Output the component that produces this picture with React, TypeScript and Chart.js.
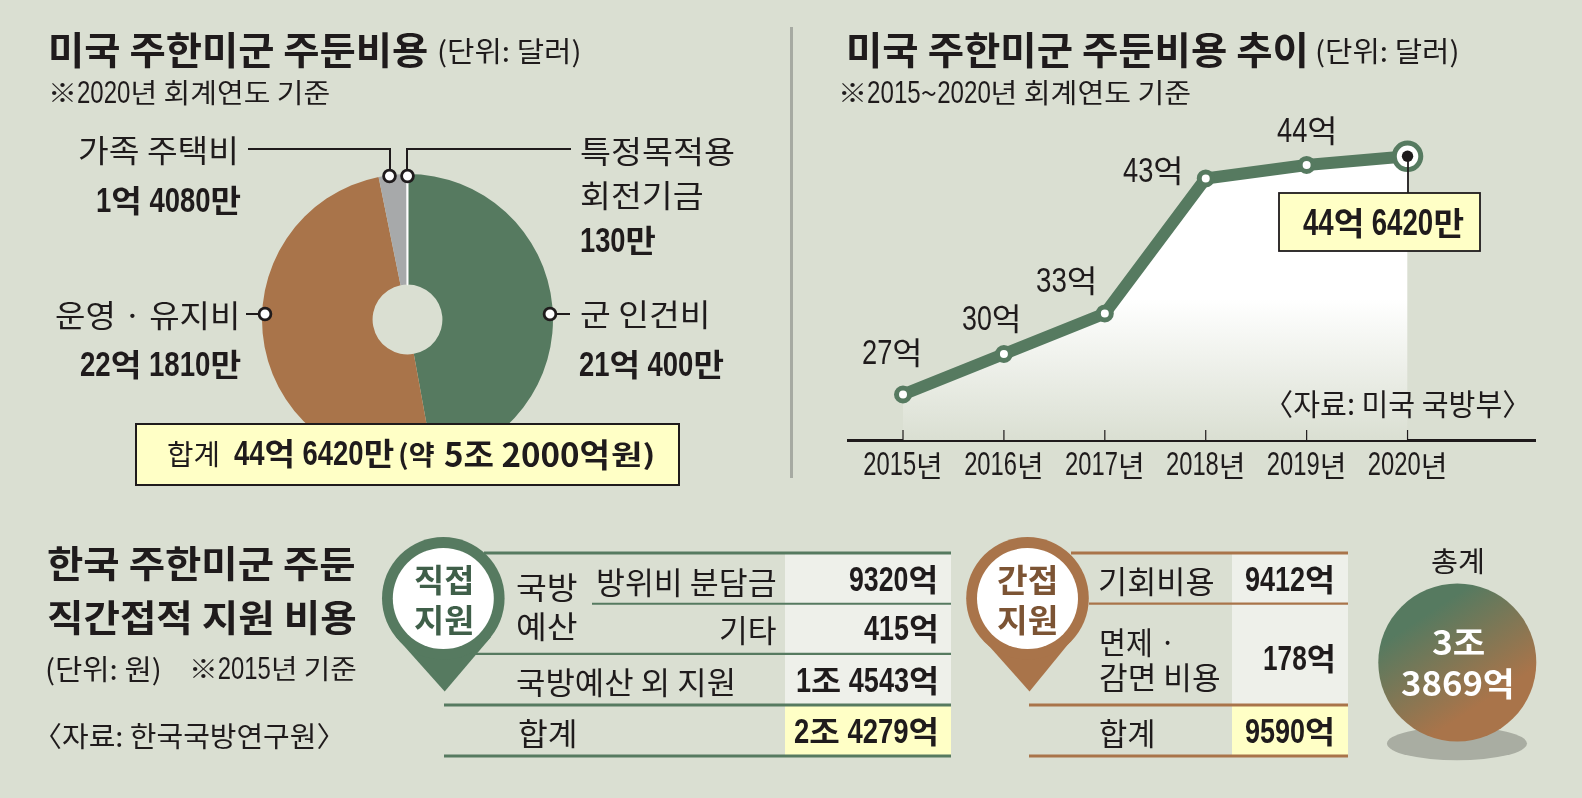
import React, { useEffect, useLayoutEffect, useRef } from "react";
import { Chart, registerables } from "chart.js";

Chart.register(...registerables);

const BG = "#dadfd2";
const GREEN = "#567a60";
const BROWN = "#a9744a";
const GRAY = "#a7a9aa";
const YELLOW = "#ffffc6";
const PALE = "#eef0ea";
const INK = "#1f1b1c";
const HANGUL = '"Noto Sans CJK KR", sans-serif';
const DIGITS = '"Liberation Sans", sans-serif';

// pie, values in units of 10,000 dollars
const pieLabels = ["군 인건비", "운영 · 유지비", "가족 주택비", "특정목적용 회전기금"];
const pieValues = [210400, 221810, 14080, 130];
const pieColors = [GREEN, BROWN, GRAY, "#ffffff"];

// line, values in 100 million dollars
const years = [2015, 2016, 2017, 2018, 2019, 2020];
const yearLabels = ["2015년", "2016년", "2017년", "2018년", "2019년", "2020년"];
const costValues = [27, 30, 33, 43, 44, 44.642];

const DIGIT_SCALE_X = 0.72;
const DIGIT_EM = 1.15;

function splitDigits(text: string) {
  return text.split(/(\d+)/).map((part, i) =>
    /^\d+$/.test(part) ? (
      <span
        key={i}
        style={{
          display: "inline-block",
          fontFamily: DIGITS,
          fontSize: `${DIGIT_EM}em`,
          lineHeight: 0.87,
          transform: `scaleX(${DIGIT_SCALE_X})`,
          transformOrigin: "left center",
          marginRight: `${-(1 - DIGIT_SCALE_X) * 0.556 * part.length}em`,
        }}
      >
        {part}
      </span>
    ) : (
      <span key={i}>{part}</span>
    )
  );
}

type TP = { x: number; w: number; c: number; s?: number; b?: boolean; col?: string; plain?: boolean; children: string };

// x and w give the ink extent; the advance box is a little wider than the ink.
function T({ x, w, c, s = 31, b = false, col = INK, plain = false, children }: TP) {
  const ref = useRef<HTMLSpanElement>(null);
  const boxW = w + 2.5;
  useLayoutEffect(() => {
    const el = ref.current;
    if (!el) return;
    el.style.transform = "translateY(-50%)";
    const natural = el.offsetWidth;
    el.style.transform = `translateY(-50%) scaleX(${boxW / natural})`;
  }, [boxW]);
  return (
    <span
      ref={ref}
      style={{
        position: "absolute",
        left: x - 1,
        top: c,
        fontFamily: HANGUL,
        fontSize: s,
        fontWeight: b ? 700 : 400,
        color: col,
        lineHeight: 1,
        whiteSpace: "nowrap",
        transformOrigin: "left center",
      }}
    >
      {plain ? children : splitDigits(children)}
    </span>
  );
}

// Draws the axis' own tick labels with condensed digits, and the small tick marks above the axis.
const axisStyle = {
  id: "axisStyle",
  beforeDraw(chart: any) {
    const ctx = chart.ctx;
    const orig = CanvasRenderingContext2D.prototype.fillText;
    ctx.fillText = function (text: string, x: number, y: number) {
      const m = /^(\d+)(.*)$/.exec(String(text));
      if (!m) return orig.call(ctx, text, x, y);
      const base = ctx.font;
      ctx.save();
      ctx.textAlign = "left";
      ctx.font = `33px ${DIGITS}`;
      const dw = ctx.measureText(m[1]).width * DIGIT_SCALE_X;
      ctx.font = base;
      const hw = ctx.measureText(m[2]).width;
      const start = x - (dw + hw) / 2;
      orig.call(ctx, m[2], start + dw, y);
      ctx.translate(start, y);
      ctx.scale(DIGIT_SCALE_X, 1);
      ctx.font = `33px ${DIGITS}`;
      orig.call(ctx, m[1], 0, 0);
      ctx.restore();
    };
  },
  afterDraw(chart: any) {
    const { ctx, scales, chartArea } = chart;
    delete ctx.fillText;
    ctx.save();
    ctx.strokeStyle = INK;
    ctx.lineWidth = 1.2;
    years.forEach((yr) => {
      const px = scales.x.getPixelForValue(yr);
      ctx.beginPath();
      ctx.moveTo(px, chartArea.bottom - 10);
      ctx.lineTo(px, chartArea.bottom);
      ctx.stroke();
    });
    ctx.restore();
  },
};

export default function App() {
  const pieRef = useRef<HTMLCanvasElement>(null);
  const lineRef = useRef<HTMLCanvasElement>(null);

  useEffect(() => {
    document.body.style.margin = "0";
    document.body.style.background = BG;
    const pie = new Chart(pieRef.current!, {
      type: "doughnut",
      data: {
        labels: pieLabels,
        datasets: [
          {
            data: pieValues,
            backgroundColor: pieColors,
            borderColor: ["rgba(0,0,0,0)", "rgba(0,0,0,0)", "rgba(0,0,0,0)", "#ffffff"],
            borderWidth: [0, 0, 0, 2],
          },
        ],
      },
      options: {
        animation: false,
        responsive: false,
        cutout: "24%",
        events: [],
        layout: { padding: 0 },
        plugins: { legend: { display: false }, tooltip: { enabled: false } },
      },
    });
    const last = years.length - 1;
    const line = new Chart(lineRef.current!, {
      type: "line",
      data: {
        datasets: [
          {
            data: years.map((yr, i) => ({ x: yr, y: costValues[i] })),
            borderColor: GREEN,
            borderWidth: 12,
            borderJoinStyle: "round",
            tension: 0,
            fill: "start",
            backgroundColor: (ctx: any) => {
              const { chart } = ctx;
              const area = chart.chartArea;
              if (!area) return "#ffffff";
              const g = chart.ctx.createLinearGradient(0, area.top, 0, area.bottom);
              g.addColorStop(0, "#ffffff");
              g.addColorStop(0.56, "#ffffff");
              g.addColorStop(1, BG);
              return g;
            },
            pointBackgroundColor: "#ffffff",
            pointBorderColor: GREEN,
            pointBorderWidth: 5,
            pointRadius: years.map((_, i) => (i === last ? 13.25 : 6.5)),
            order: 2,
          },
          {
            data: [{ x: years[last], y: costValues[last] }],
            showLine: false,
            pointBackgroundColor: INK,
            pointBorderWidth: 0,
            pointRadius: 5.7,
            order: 1,
          },
        ],
      },
      options: {
        animation: false,
        responsive: false,
        events: [],
        layout: { padding: 0, autoPadding: false },
        plugins: { legend: { display: false }, tooltip: { enabled: false } },
        scales: {
          x: {
            type: "linear",
            min: 2014.445,
            max: 2021.273,
            afterBuildTicks: (s: any) => {
              s.ticks = years.map((v) => ({ value: v }));
            },
            afterFit: (s: any) => {
              s.height = 50;
            },
            grid: { display: false, drawTicks: false },
            border: { display: true, color: INK, width: 3 },
            ticks: {
              autoSkip: false,
              maxRotation: 0,
              padding: 9,
              color: INK,
              font: { family: HANGUL, size: 29 },
              callback: (v: any) => yearLabels[years.indexOf(v)],
            },
          },
          y: { display: false, min: 23.63, max: 47.33 },
        },
      },
      plugins: [axisStyle],
    });
    return () => {
      pie.destroy();
      line.destroy();
    };
  }, []);

  return (
    <div style={{ position: "absolute", left: 0, top: 0, width: 1582, height: 798, background: BG, overflow: "hidden" }}>
      <canvas ref={pieRef} width={293} height={293} style={{ position: "absolute", left: 261, top: 173, width: 293, height: 293 }} />
      <canvas ref={lineRef} width={689} height={370} style={{ position: "absolute", left: 847, top: 120, width: 689, height: 370 }} />

      <svg width={1582} height={798} style={{ position: "absolute", left: 0, top: 0 }}>
        <rect x={790} y={27} width={3} height={451} fill="#a6aaa2" />
        <g fill="none" stroke={INK} strokeWidth={2}>
          <path d="M248 149 H390 V170" />
          <path d="M571 149 H407 V170" />
          <path d="M246 314 H259" />
          <path d="M556 314 H570" />
        </g>
        {[[389.5, 176], [407.5, 176], [265, 314], [550, 314]].map(([cx, cy], i) => (
          <circle key={i} cx={cx} cy={cy} r={5.9} fill="#fff" stroke={INK} strokeWidth={2.8} />
        ))}
        <rect x={136} y={424} width={543} height={61} fill={YELLOW} stroke={INK} strokeWidth={2} />
        <path d="M1408 160 V193" stroke={INK} strokeWidth={1.8} />
        <rect x={1279} y={193} width={201} height={58} fill={YELLOW} stroke={INK} strokeWidth={1.8} />

        <rect x={785} y={553} width={166} height={152} fill={PALE} />
        <rect x={785} y={706} width={166} height={49} fill={YELLOW} />
        <g stroke={GREEN}>
          <path d="M484 553 H951" strokeWidth={3} />
          <path d="M592 603.7 H951" strokeWidth={2} />
          <path d="M471 653.8 H951" strokeWidth={2.2} />
          <path d="M444 705 H951" strokeWidth={3} />
          <path d="M444 756 H951" strokeWidth={3} />
        </g>
        <path d="M396 637 L444.7 691.5 L491 637 Z" fill={GREEN} />
        <circle cx={443.3} cy={598.3} r={61.3} fill={GREEN} />
        <circle cx={443.3} cy={598.5} r={50.5} fill="#fff" />

        <rect x={1232} y={553} width={116} height={152} fill={PALE} />
        <rect x={1232} y={706} width={116} height={49} fill={YELLOW} />
        <g stroke={BROWN}>
          <path d="M1071 553 H1348" strokeWidth={3} />
          <path d="M1089 603.7 H1348" strokeWidth={2.2} />
          <path d="M1029 705 H1348" strokeWidth={3} />
          <path d="M1029 756 H1348" strokeWidth={3} />
        </g>
        <path d="M981 637 L1029.5 691.5 L1074 637 Z" fill={BROWN} />
        <circle cx={1027.5} cy={598.3} r={61.3} fill={BROWN} />
        <circle cx={1027.5} cy={598.5} r={50.5} fill="#fff" />

        <defs>
          <linearGradient id="ball" x1="0.22" y1="0.12" x2="0.72" y2="0.88">
            <stop offset="0.12" stopColor={GREEN} />
            <stop offset="0.85" stopColor={BROWN} />
          </linearGradient>
        </defs>
        <ellipse cx={1457} cy={743.5} rx={70} ry={16.7} fill="#a9ada2" />
        <circle cx={1457.3} cy={662.5} r={79} fill="url(#ball)" />
      </svg>

      <T x={49} w={378} c={48} s={38} b>미국 주한미군 주둔비용</T>
      <T x={438} w={142} c={50} s={28}>(단위: 달러)</T>
      <T x={49} w={280} c={92} s={27}>※2020년 회계연도 기준</T>
      <T x={79} w={159} c={148}>가족 주택비</T>
      <T x={97} w={142} c={200} b>1억 4080만</T>
      <T x={581} w={153} c={149}>특정목적용</T>
      <T x={581} w={121} c={193}>회전기금</T>
      <T x={581} w={73} c={240} b>130만</T>
      <T x={56} w={183} c={313}>운영 · 유지비</T>
      <T x={81} w={159} c={364} b>22억 1810만</T>
      <T x={581} w={128} c={312}>군 인건비</T>
      <T x={580} w={142} c={364} b>21억 400만</T>
      <T x={168} w={51} c={453} s={28}>합계</T>
      <T x={235} w={158} c={453} b>44억 6420만</T>
      <T x={399} w={34} c={453} s={27} b>(약</T>
      <T x={445} w={164} c={453} s={33} b plain>5조 2000억</T>
      <T x={612} w={42} c={453} s={27} b>원)</T>

      <T x={846.5} w={460} c={48} s={38} b>미국 주한미군 주둔비용 추이</T>
      <T x={1316} w={142} c={50} s={28}>(단위: 달러)</T>
      <T x={839} w={350} c={92} s={27}>※2015~2020년 회계연도 기준</T>
      <T x={863} w={58} c={352}>27억</T>
      <T x={963} w={57} c={318}>30억</T>
      <T x={1037} w={59} c={280}>33억</T>
      <T x={1124} w={58} c={170}>43억</T>
      <T x={1278} w={58} c={130}>44억</T>
      <T x={1304} w={159} c={222} s={32} b>44억 6420만</T>
      <T x={1265} w={265} c={402} s={30}>〈자료: 미국 국방부〉</T>

      <T x={48} w={306} c={562} s={37} b>한국 주한미군 주둔</T>
      <T x={48} w={307} c={616} s={37} b>직간접적 지원 비용</T>
      <T x={46} w={114} c={668} s={28}>(단위: 원)</T>
      <T x={190} w={165} c={668} s={27}>※2015년 기준</T>
      <T x={34} w={310} c={735} s={28}>〈자료: 한국국방연구원〉</T>

      <T x={415} w={58} c={578} s={32} b col="#3f5f49">직접</T>
      <T x={415} w={58} c={618} s={32} b col="#3f5f49">지원</T>
      <T x={517} w={59} c={585}>국방</T>
      <T x={517} w={59} c={624}>예산</T>
      <T x={597} w={178} c={580}>방위비 분담금</T>
      <T x={720} w={55} c={628}>기타</T>
      <T x={850} w={87} c={579} b>9320억</T>
      <T x={865} w={72} c={628} b>415억</T>
      <T x={517} w={218} c={680}>국방예산 외 지원</T>
      <T x={797} w={140} c={680} b>1조 4543억</T>
      <T x={519} w={57} c={731}>합계</T>
      <T x={795} w={142} c={731} b>2조 4279억</T>

      <T x={998} w={59} c={578} s={32} b col="#7c5434">간접</T>
      <T x={998} w={59} c={618} s={32} b col="#7c5434">지원</T>
      <T x={1099} w={114} c={579}>기회비용</T>
      <T x={1246} w={88} c={579} b>9412억</T>
      <T x={1100} w={74} c={640}>면제 ·</T>
      <T x={1100} w={119} c={675}>감면 비용</T>
      <T x={1264} w={70} c={658} b>178억</T>
      <T x={1100} w={54} c={731}>합계</T>
      <T x={1246} w={88} c={731} b>9590억</T>

      <T x={1432} w={52} c={560} s={28}>총계</T>
      <T x={1433} w={51} c={641} s={33} b col="#fff" plain>3조</T>
      <T x={1402} w={111} c={682} s={33} b col="#fff" plain>3869억</T>
    </div>
  );
}
